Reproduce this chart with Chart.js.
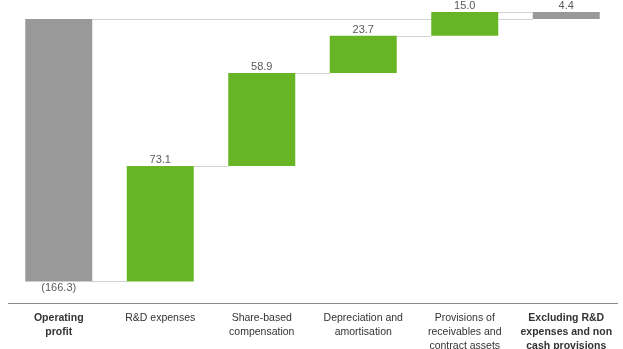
<!DOCTYPE html>
<html>
<head>
<meta charset="utf-8">
<script src="https://cdn.jsdelivr.net/npm/chart.js@4.4.1/dist/chart.umd.min.js"></script>
<style>
  html, body { margin: 0; padding: 0; background: #fff; }
  #wrap { width: 623px; height: 349px; }
</style>
</head>
<body>
<div id="wrap"><canvas id="bridge"></canvas></div>
<script>
const categories = [
    ['Operating', 'profit'],
    'R&D expenses',
    ['Share-based', 'compensation'],
    ['Depreciation and', 'amortisation'],
    ['Provisions of', 'receivables and', 'contract assets'],
    ['Excluding R&D', 'expenses and non', 'cash provisions']
];
const operatingProfit = -166.3;
const addBacks = [73.1, 58.9, 23.7, 15.0];
const adjustedResult = 4.4;
const valueLabels = ['(166.3)', '73.1', '58.9', '23.7', '15.0', '4.4'];

const GREY = '#999999';
const GREEN = '#67b424';

// floating bars: [start, end] for each step of the bridge
const ranges = [[0, operatingProfit]];
let running = operatingProfit;
addBacks.forEach(v => {
    ranges.push([running, running + v]);
    running += v;
});
ranges.push([0, adjustedResult]);

const colors = [GREY, GREEN, GREEN, GREEN, GREEN, GREY];

const bridgeLines = {
    id: 'bridgeLines',
    beforeDatasetsDraw(chart) {
        const ctx = chart.ctx;
        const bars = chart.getDatasetMeta(0).data;
        const y = chart.scales.y;
        ctx.save();
        ctx.strokeStyle = '#d2d2d2';
        ctx.lineWidth = 1;
        // zero line running from the first bar to the last one
        const y0 = Math.round(y.getPixelForValue(0)) + 0.5;
        ctx.beginPath();
        ctx.moveTo(bars[0].x + bars[0].width / 2, y0);
        ctx.lineTo(bars[5].x - bars[5].width / 2, y0);
        ctx.stroke();
        // connectors between the end of one step and the start of the next
        for (let i = 0; i < bars.length - 1; i++) {
            const level = ranges[i][1];
            const py = Math.round(y.getPixelForValue(level)) + 0.5;
            ctx.beginPath();
            ctx.moveTo(bars[i].x + bars[i].width / 2, py);
            ctx.lineTo(bars[i + 1].x - bars[i + 1].width / 2, py);
            ctx.stroke();
        }
        ctx.restore();
    },
    afterDatasetsDraw(chart) {
        const ctx = chart.ctx;
        const bars = chart.getDatasetMeta(0).data;
        const y = chart.scales.y;
        ctx.save();
        ctx.font = '11px "Liberation Sans", Arial, sans-serif';
        ctx.fillStyle = '#5a5a5a';
        ctx.textAlign = 'center';
        ctx.textBaseline = 'middle';
        bars.forEach((bar, i) => {
            const [a, b] = ranges[i];
            if (b < a) {
                ctx.fillText(valueLabels[i], bar.x, y.getPixelForValue(b) + 7);
            } else {
                ctx.fillText(valueLabels[i], bar.x, y.getPixelForValue(Math.max(a, b)) - 6);
            }
        });
        ctx.restore();
    }
};

new Chart(document.getElementById('bridge').getContext('2d'), {
    type: 'bar',
    data: {
        labels: categories,
        datasets: [{
            data: ranges,
            backgroundColor: colors,
            borderWidth: 0,
            categoryPercentage: 1,
            barPercentage: 0.66
        }]
    },
    options: {
        responsive: true,
        maintainAspectRatio: false,
        animation: false,
        layout: { padding: { left: 8, right: 6, top: 0, bottom: 0 } },
        plugins: {
            legend: { display: false },
            tooltip: { enabled: false }
        },
        scales: {
            x: {
                grid: { display: false, drawTicks: false },
                border: { display: true, color: '#8c8c8c', width: 1 },
                ticks: {
                    color: '#333',
                    padding: 8,
                    maxRotation: 0,
                    autoSkip: false,
                    font: (c) => ({
                        family: '"Liberation Sans", Arial, sans-serif',
                        size: 10.5,
                        weight: (c.index === 0 || c.index === 5) ? 'bold' : 'normal',
                        lineHeight: 1.33
                    })
                },
                afterFit(scale) { scale.height = 46; }
            },
            y: {
                display: false,
                min: -180,
                max: 12
            }
        }
    },
    plugins: [bridgeLines]
});
</script>
</body>
</html>
